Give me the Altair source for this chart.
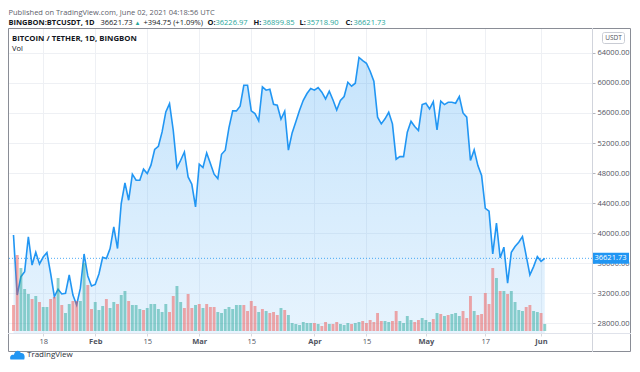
import altair as alt
import pandas as pd

# ---------------- data ----------------
dates = pd.date_range("2021-01-10", "2021-06-02", freq="D").strftime("%Y-%m-%d").tolist()
day = list(range(len(dates)))

close = [
    39730, 31730, 34180, 34840, 39500, 35730, 37420, 35870, 36800, 37380,
    34600, 31510, 32500, 31870, 31960, 34400, 31730, 30400, 32640, 37200,
    34270, 32930, 33150, 34530, 36750, 36600, 37930, 40800, 37930, 43930,
    46680, 44370, 47840, 47040, 47040, 48510, 47930, 49040, 51130, 51570,
    53480, 56150, 57260, 53700, 48680, 49700, 50800, 47480, 46500, 43480,
    49170, 48730, 50680, 49260, 47840, 47260, 50500, 51040, 54060, 56280,
    56280, 56900, 59700, 59700, 56280, 55920, 54950, 59480, 59040, 59170,
    57170, 57040, 55170, 56240, 51040, 53350, 54820, 56370, 57700, 58600,
    59260, 59040, 59400, 58770, 57880, 58900, 57740, 56410, 57660, 58190,
    60100, 59570, 59970, 63400, 62990, 62630, 61570, 60240, 55440, 54550,
    55220, 56100, 54550, 49840, 50190, 50190, 53440, 54900, 54190, 53660,
    57120, 57300, 56540, 57520, 53750, 57570, 57120, 57430, 57430, 57300,
    58190, 56010, 55440, 49660, 51080, 48990, 47660, 43300, 42900, 37220,
    41310, 36690, 38110, 33310, 37440, 38190, 38770, 39520, 36990, 34410,
    35520, 36860, 36226.97, 36621.73,
]

# volume, thousands (arbitrary units)
volume = [
    26, 76, 63, 42, 37, 32, 35, 29, 24, 24,
    32, 34, 53, 26, 18, 27, 30, 30, 30, 68,
    46, 22, 29, 21, 25, 32, 23, 29, 27, 36,
    40, 30, 26, 26, 22, 21, 23, 27, 27, 22,
    19, 27, 19, 35, 45, 29, 23, 37, 23, 26,
    27, 23, 27, 24, 24, 19, 18, 22, 24, 22,
    26, 26, 26, 20, 30, 25, 19, 22, 20, 18,
    19, 16, 23, 21, 16, 8, 7, 6, 9, 8,
    8, 8, 7, 5, 9, 7, 7, 9, 7, 6,
    8, 7, 8, 9, 10, 8, 11, 9, 18, 10,
    10, 9, 10, 20, 10, 8, 15, 11, 9, 11,
    13, 11, 9, 12, 18, 17, 15, 16, 17, 18,
    15, 20, 13, 35, 20, 16, 17, 38, 27, 63,
    53, 40, 40, 37, 40, 29, 21, 20, 24, 26,
    20, 19, 18, 7,
]

direction_codes = (
    "rrgggrgrgg" "rrgrggrrgg" "rrgggrggrg" "grgggrgggg"
    "ggrrggrrrg" "rgrrrggggg" "ggrrrrgrgr" "rrgrgggggg"
    "grgrrgrrgg" "grggrrrrrr" "ggrrggggrr" "gggrgrgrgg"
    "grrrgrrrrr" "grgrggggrr" "ggrg"
)
direction = ["up" if c == "g" else "down" for c in direction_codes]

price_ticks = [28000, 32000, 36000, 40000, 44000, 48000, 52000, 56000, 60000, 64000]
tick_days = [8, 22, 36, 50, 64, 81, 95, 111, 127, 142]
tick_labels = ["18", "Feb", "15", "Mar", "15", "Apr", "15", "May", "17", "Jun"]

last_close = close[-1]
day_open, day_high, day_low = 36226.97, 36899.85, 35718.90
change = 394.75
change_pct = 1.09

df = pd.DataFrame({"date": dates, "day": day, "close": close,
                   "volume": volume, "direction": direction})
one = pd.DataFrame({"a": [0]})

FONT = "Open Sans"
BLUE = "#2196f3"
TEAL = "#26a69a"
RED = "#ef5350"
DARK = "#131722"
GREY = "#50535e"
GRID = "#eef0f4"

W, H = 584, 305

x_scale = alt.Scale(domain=[-0.132, 154.37], nice=False, zero=False)
price_scale = alt.Scale(domain=[26666.67, 67333.33], nice=False, zero=False)

label_expr = " : ".join(f"datum.value == {d} ? '{l}'" for d, l in zip(tick_days, tick_labels)) + " : ''"
month_days = [d for d, l in zip(tick_days, tick_labels) if not l.isdigit()]
month_test = "indexof([" + ",".join(str(d) for d in month_days) + "], datum.value) >= 0"

x_axis = alt.Axis(
    values=tick_days, labelExpr=label_expr, title=None, domain=False,
    grid=True, gridColor=GRID, tickSize=3, tickColor="#d6d8de",
    labelPadding=1, labelFont=FONT, labelFontSize=7.5, labelColor=GREY,
    labelFontWeight={"condition": {"test": month_test, "value": "bold"}, "value": "normal"},
    labelFlush=False, labelOverlap=False,
)
y_axis = alt.Axis(
    orient="right", values=price_ticks, format=".2f", title=None, domain=False,
    grid=True, gridColor=GRID, tickSize=3, tickColor="#b2b5be",
    labelPadding=2, labelFont=FONT, labelFontSize=7.5, labelColor=GREY,
    labelFlush=False, labelOverlap=False,
)

base = alt.Chart(df)

area = base.mark_area(
    clip=True, opacity=1,
    color=alt.LinearGradient(
        gradient="linear",
        stops=[alt.GradientStop(color="#2196f3", offset=0),
               alt.GradientStop(color="#ffffff", offset=1)],
        x1=0, x2=0, y1=0, y2=1),
    fillOpacity=0.26,
).encode(
    x=alt.X("day:Q", scale=x_scale, axis=x_axis),
    y=alt.Y("close:Q", scale=price_scale, axis=y_axis),
    y2=alt.value(H),
)

line = base.mark_line(clip=True, color=BLUE, strokeWidth=1.6).encode(
    x=alt.X("day:Q", scale=x_scale, axis=x_axis),
    y=alt.Y("close:Q", scale=price_scale, axis=y_axis),
)

last_rule = alt.Chart(one).mark_rule(
    clip=True, color=BLUE, strokeDash=[1, 2], strokeWidth=1, opacity=0.8
).encode(y=alt.YDatum(datum=last_close, type="quantitative", axis=y_axis))

last_box = alt.Chart(one).mark_rect(color=BLUE, yOffset=-5.5, y2Offset=5.5).encode(
    x=alt.value(W), x2=alt.value(W + 37),
    y=alt.YDatum(datum=last_close, type="quantitative", axis=y_axis),
    y2=alt.Y2Datum(datum=last_close),
)
last_text = alt.Chart(one).mark_text(
    color="white", font=FONT, fontSize=7.5, align="center", baseline="middle"
).encode(
    x=alt.value(W + 18.5),
    y=alt.YDatum(datum=last_close, type="quantitative", axis=y_axis),
    text=alt.value(f"{last_close:.2f}"),
)

price_layer = alt.layer(area, last_rule, line, last_box, last_text)

vol = base.mark_bar(clip=True, size=2.9, opacity=0.5).encode(
    x=alt.X("day:Q", scale=x_scale, axis=x_axis),
    y=alt.Y("volume:Q", scale=alt.Scale(domain=[0, 303], range=[303, 0]), axis=None),
    color=alt.Color("direction:N", scale=alt.Scale(domain=["up", "down"], range=[TEAL, RED]), legend=None),
)


def txt(s, x, y, size=7.5, color=DARK, weight="normal", align="left"):
    return alt.Chart(one).mark_text(
        text=s, font=FONT, fontSize=size, color=color, fontWeight=weight,
        align=align, baseline="middle"
    ).encode(x=alt.value(x), y=alt.value(y))


def rule(x, x2, y, y2, color, width=1):
    return alt.Chart(one).mark_rule(color=color, strokeWidth=width).encode(
        x=alt.value(x), x2=alt.value(x2), y=alt.value(y), y2=alt.value(y2))


frame = alt.Chart(one).mark_rect(fillOpacity=0, stroke="#8a8d96", strokeWidth=1).encode(
    x=alt.value(0.5), x2=alt.value(622.5), y=alt.value(0.5), y2=alt.value(323.5))

sep_v = rule(W + 0.5, W + 0.5, 0, 324, "#d1d4dc")
sep_h = rule(0, 623, H + 0.5, H + 0.5, "#e0e3eb")

usdt_box = alt.Chart(one).mark_rect(
    fill="white", stroke="#c9ccd4", strokeWidth=1, cornerRadius=2
).encode(x=alt.value(594.5), x2=alt.value(616.5), y=alt.value(4.5), y2=alt.value(15.5))
usdt_text = txt("USDT", 605.5, 10, size=6.5, color=GREY, align="center")

hy1, hy2 = -15, -5.5
header = [
    txt("Published on TradingView.com, June 02, 2021 04:18:56 UTC", 0.5, hy1, color="#5d606b"),
    txt("BINGBON:BTCUSDT, 1D", 0.5, hy2, weight="bold"),
    txt(f"{last_close:.2f}", 92.5, hy2),
    txt("▲", 126.5, hy2, size=6, color=TEAL),
    txt(f"+{change:.2f} (+{change_pct:.2f}%)", 135.5, hy2),
    txt("O:", 199.5, hy2, weight="bold"),
    txt(f"{day_open:.2f}", 207.5, hy2, color=TEAL),
    txt("H:", 245.5, hy2, weight="bold"),
    txt(f"{day_high:.2f}", 254.5, hy2, color=TEAL),
    txt("L:", 291.5, hy2, weight="bold"),
    txt(f"{day_low:.2f}", 298.5, hy2, color=TEAL),
    txt("C:", 337.5, hy2, weight="bold"),
    txt(f"{last_close:.2f}", 345.5, hy2, color=TEAL),
]

title = txt("BITCOIN / TETHER, 1D, BINGBON", 4, 10.5, size=7.8, weight="bold")
vol_label = txt("Vol", 4, 21, size=7.5)

cloud = ("M -1 0.7 C -1.15 0.25 -0.85 -0.05 -0.5 0.05 C -0.4 -0.6 0.3 -0.75 0.45 -0.2 "
         "C 0.85 -0.3 1.15 0.15 0.95 0.7 Z")
logo_icon = alt.Chart(one).mark_point(
    shape=cloud, filled=True, color=BLUE, opacity=1, size=200
).encode(x=alt.value(9.5), y=alt.value(326.5))
logo_text = txt("TradingView", 19, 327, size=8, color="#2a2e39")

chart = alt.layer(
    price_layer, vol, frame, sep_v, sep_h, usdt_box, usdt_text,
    title, vol_label, logo_icon, logo_text, *header,
).resolve_scale(
    y="independent"
).properties(
    width=W, height=H,
    padding={"left": 0, "top": 20, "right": 39, "bottom": 27},
    autosize=alt.AutoSizeParams(type="none"),
).configure_view(
    stroke=None
).configure(
    background="white", font=FONT
)

chart.save("out.html", embed_options={"renderer": "svg", "actions": False})
